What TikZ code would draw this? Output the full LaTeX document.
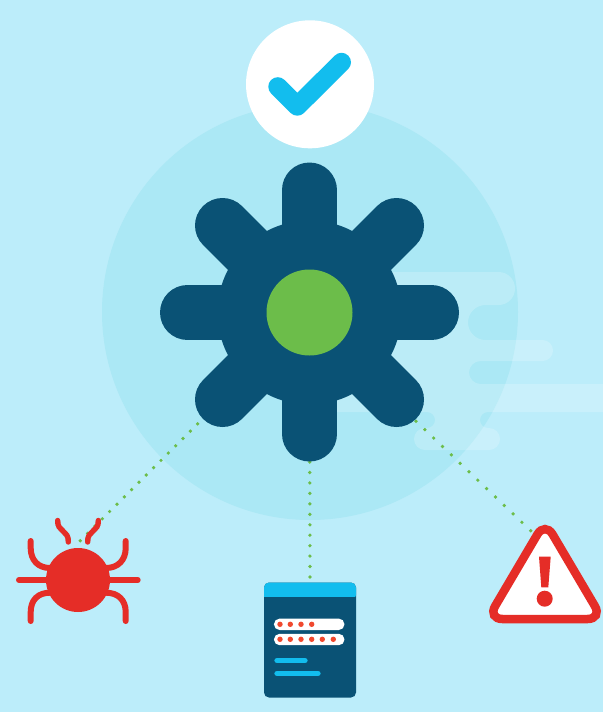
\documentclass[tikz,border=0pt]{standalone}
\definecolor{skyBack}{HTML}{BCEDFA}
\definecolor{skyDisc}{HTML}{ABE8F5}
\definecolor{gearBlue}{HTML}{0A5275}
\definecolor{hubGreen}{HTML}{6CBD4A}
\definecolor{tickCyan}{HTML}{12BDEE}
\definecolor{alarmRed}{HTML}{E52D27}
\definecolor{pinRed}{HTML}{F0492F}
\tikzset{
	disc/.style={circle, inner sep=0pt, minimum size=#1},
	gearArm/.style={gearBlue, line width=55pt, line cap=round},
	dotLine/.style={hubGreen, line width=3.7pt, line cap=round, dash pattern=on 0pt off #1},
	bugLeg/.style={alarmRed, line width=6pt, line cap=round},
	pill/.style={line cap=round}
}

\begin{document}
\begin{tikzpicture}[x=1pt, y=-1pt]
	% Background, disc and streaks:
	\useasboundingbox (0, 0) rectangle (603, 712);
	\fill[skyBack] (0, 0) rectangle (603, 712);
	\node[disc=416pt, fill=skyDisc] (backDisc) at (310, 312){};
	\fill[white, fill opacity=0.2] (320, 272) -- (498.5, 272) arc (-90:90:16.5) -- (485.5, 305) arc (-90:-270:17.5) -- (542.5, 340) arc (-90:90:10.5) -- (480.5, 361) arc (-90:-270:11.5) -- (603, 384) -- (603, 412) -- (488, 412) arc (-90:-270:8) -- (489, 428) arc (-90:90:11) -- (425, 450) arc (90:270:11) -- (427, 428) arc (90:-90:8) -- (320, 412) -- cycle;
	% Dotted wires under the gear:
	\node[disc=86pt, fill=hubGreen] (hub) at (309.5, 312.5){};
	\coordinate (bugTip) at (80.3, 540.7);
	\coordinate (formTip) at (310, 577);
	\coordinate (warnTip) at (530.7, 530.7);
	\coordinate (warnRoot) at (310, 320);
	\draw[dotLine=10.35pt] (bugTip) -- (hub);
	\draw[dotLine=10.45pt] (formTip) -- (hub);
	\draw[dotLine=12.2pt] (warnTip) -- (warnRoot);
	% Gear:
	\node[disc=184pt, fill=gearBlue] (gearBody) at (309.5, 312.5){};
	\draw[gearArm] (309.5, 190) -- (309.5, 434);
	\draw[gearArm] (187.5, 312.5) -- (431.5, 312.5);
	\draw[gearArm] (222.5, 225.5) -- (396.5, 399.5);
	\draw[gearArm] (396.5, 225.5) -- (222.5, 399.5);
	\node[disc=86pt, fill=hubGreen] (hubTop) at (hub){};
	% Check badge:
	\node[disc=128pt, fill=white] (badge) at (310, 84.3){};
	\draw[tickCyan, line width=19pt, line cap=round, line join=round] (277.8, 86.7) -- (297.3, 106.2) -- (341.5, 62.3);
	% Bug:
	\draw[bugLeg] (19, 580) -- (137.7, 580);
	\draw[bugLeg] (30.7, 541) -- (30.7, 548) .. controls (30.7, 560) and (38, 568) .. (50, 568);
	\draw[bugLeg] (125.7, 541) -- (125.7, 548) .. controls (125.7, 560) and (118, 568) .. (106, 568);
	\draw[bugLeg] (30.7, 621) -- (30.7, 612) .. controls (30.7, 600) and (38, 592.7) .. (50, 592.7);
	\draw[bugLeg] (125.7, 621) -- (125.7, 612) .. controls (125.7, 600) and (118, 592.7) .. (106, 592.7);
	\draw[bugLeg, line width=5.4pt] (57.7, 520.5) .. controls (57, 532) and (69, 530) .. (68.3, 542);
	\draw[bugLeg, line width=5.4pt] (98.3, 520.5) .. controls (99, 532) and (87, 530) .. (87.7, 542);
	\node[disc=64pt, fill=alarmRed] (bugBody) at (78, 580){};
	% Login form:
	\node[rectangle, rounded corners=5pt, fill=gearBlue, inner sep=0pt, minimum width=92pt, minimum height=115pt] (form) at (310, 640){};
	\fill[tickCyan, rounded corners=5pt] (264, 600) -- (264, 582.5) -- (356, 582.5) -- (356, 600) [sharp corners] -- cycle;
	\fill[gearBlue] (264, 597) rectangle (356, 606);
	\node[rectangle, rounded corners=5.6pt, fill=white, inner sep=0pt, minimum width=70.5pt, minimum height=11.4pt] (fieldOne) at (309.2, 624.3){};
	\node[rectangle, rounded corners=5.6pt, fill=white, inner sep=0pt, minimum width=70.5pt, minimum height=11.4pt] (fieldTwo) at (309.2, 639.5){};
	\fill[pinRed] (280, 624.3) circle (2.7) (290.3, 624.3) circle (2.7) (301, 624.3) circle (2.7) (311.7, 624.3) circle (2.7);
	\fill[pinRed] (280, 639.3) circle (2.7) (290.3, 639.3) circle (2.7) (301, 639.3) circle (2.7) (311.7, 639.3) circle (2.7) (322.3, 639.3) circle (2.7) (333.3, 639.3) circle (2.7);
	\draw[pill, tickCyan, line width=5.3pt] (277, 660.7) -- (305, 660.7);
	\draw[pill, tickCyan, line width=5.3pt] (277, 673.3) -- (318, 673.3);
	% Warning sign:
	\draw[alarmRed, fill=white, line width=8.5pt, rounded corners=15pt] (545, 521.5) -- (602.5, 619) -- (487.5, 619) -- cycle;
	\fill[alarmRed] (539, 556.7) -- (550.7, 556.7) -- (548.3, 587.3) -- (541.3, 587.3) -- cycle;
	\node[disc=16pt, fill=alarmRed] (warnDot) at (544.7, 598.7){};
\end{tikzpicture}
\end{document}
